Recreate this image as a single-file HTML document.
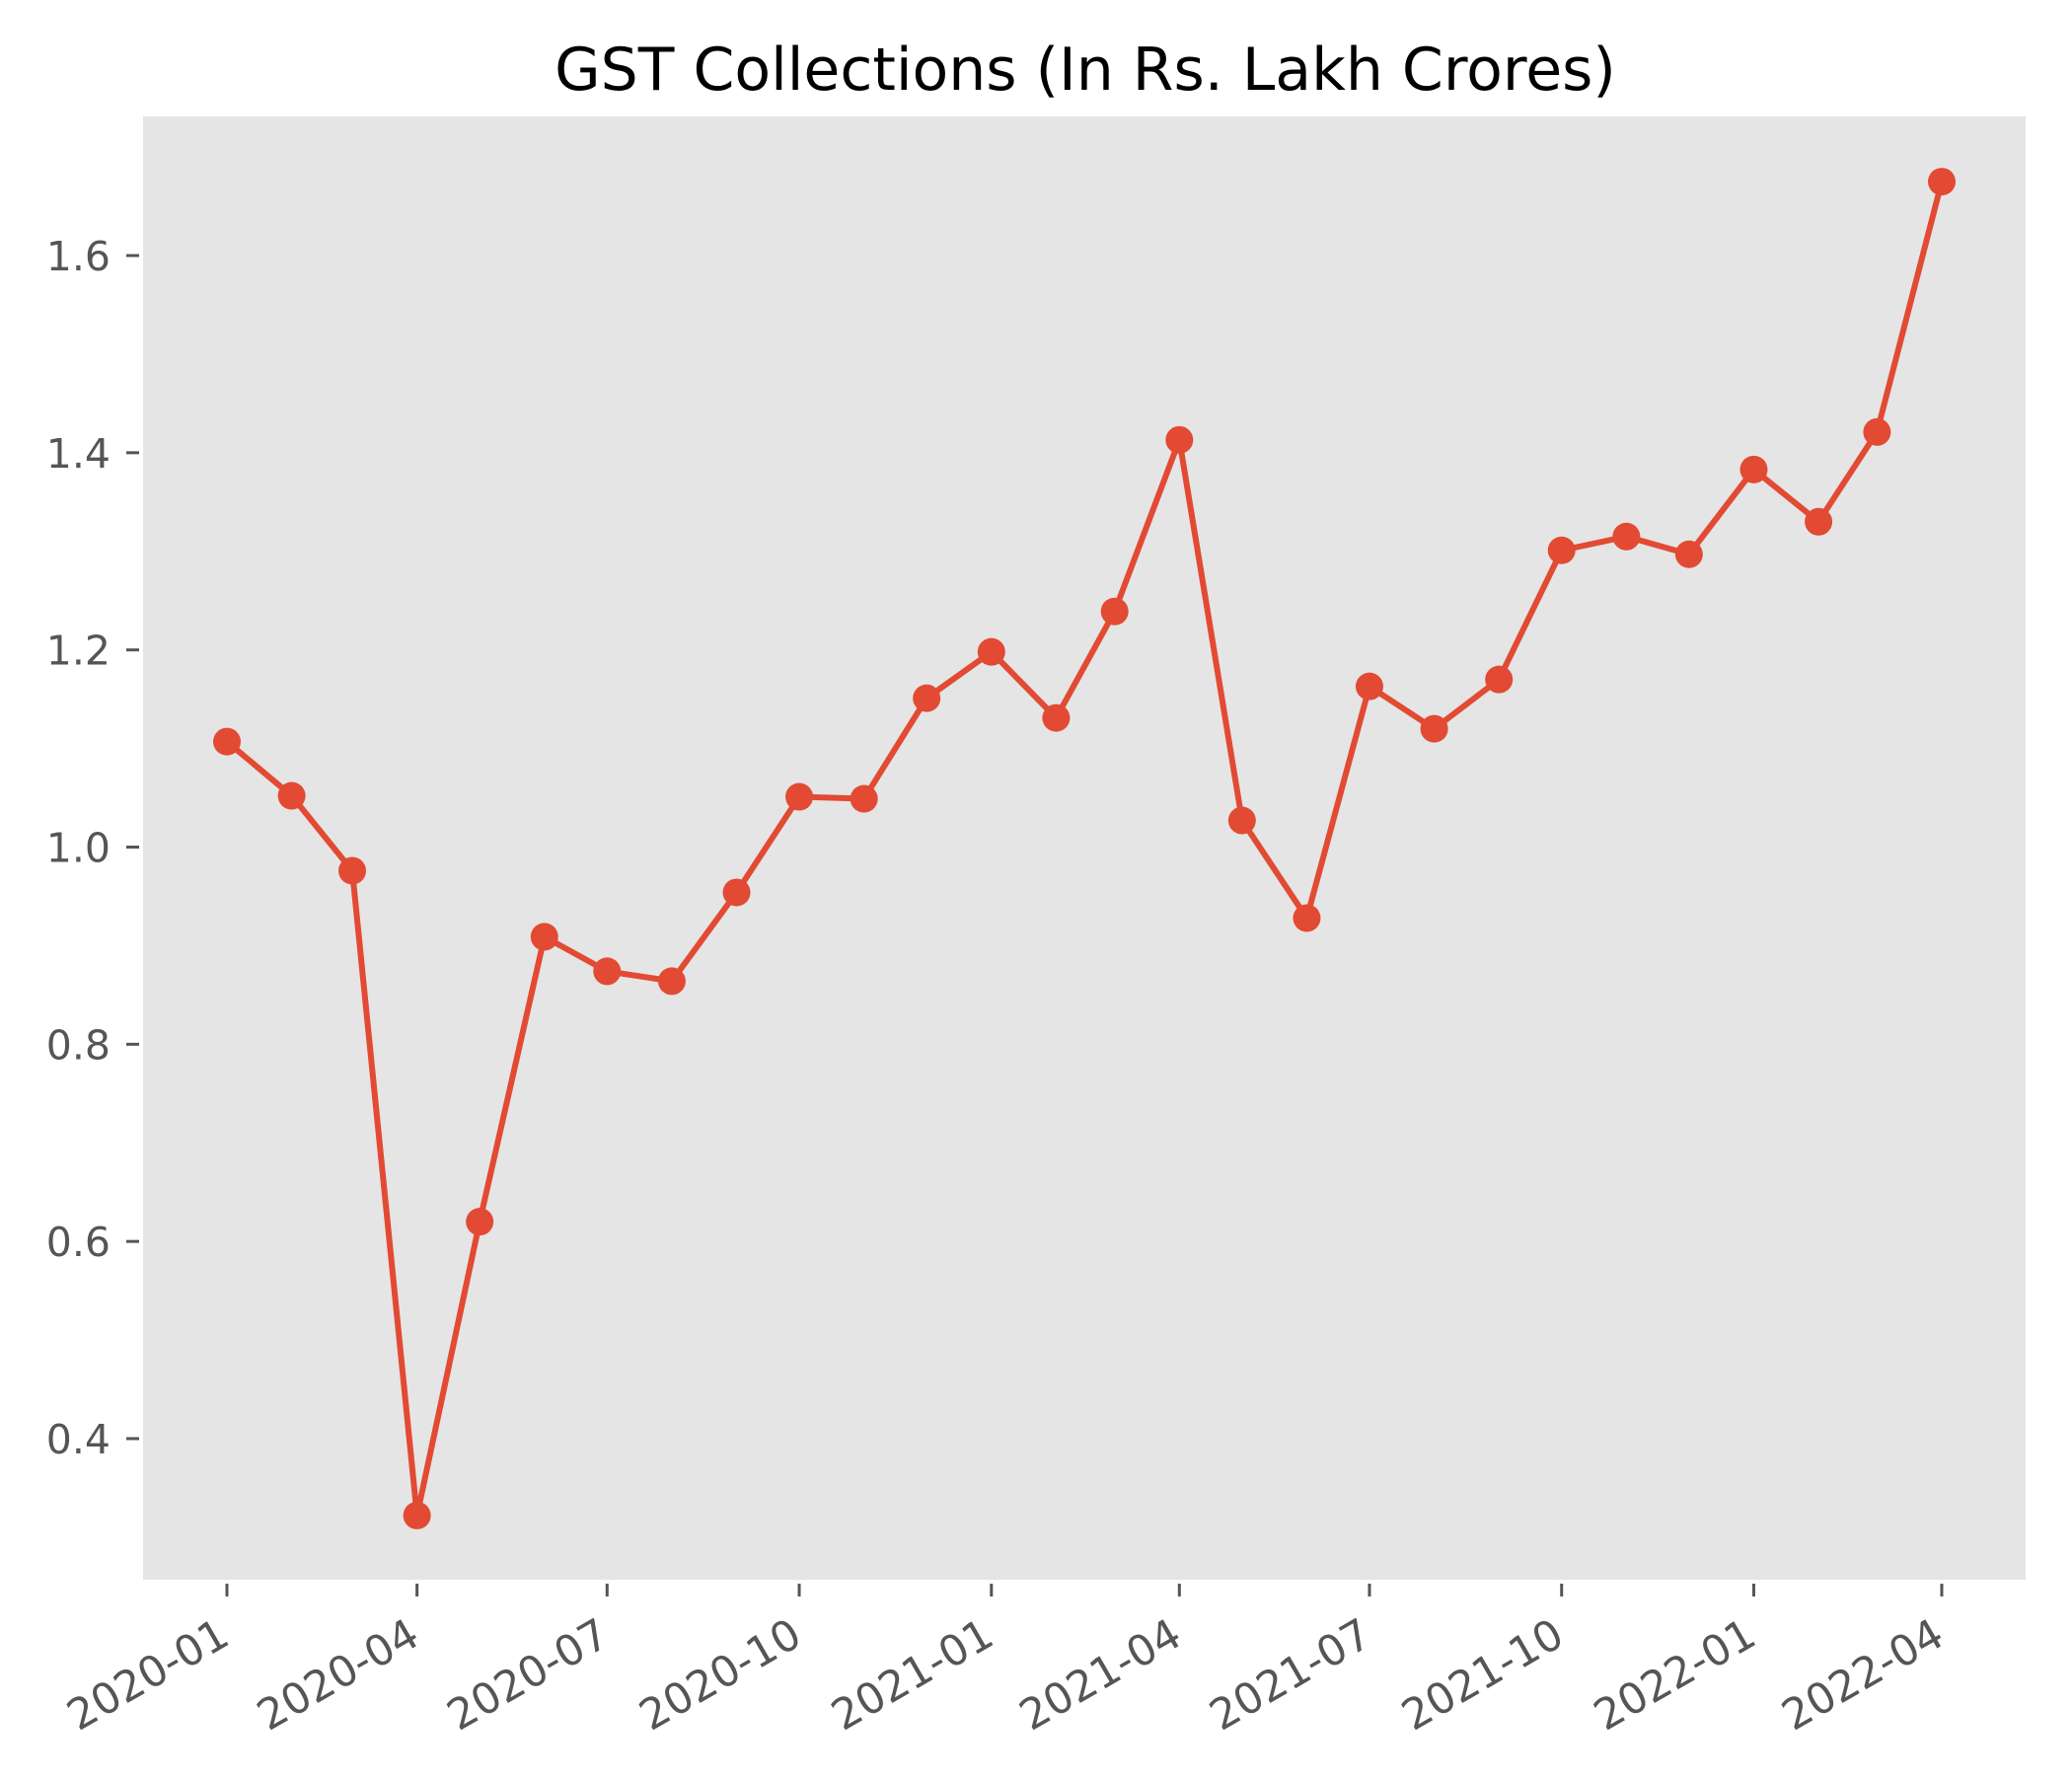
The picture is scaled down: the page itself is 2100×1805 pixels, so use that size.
<!DOCTYPE html>
<html><head><meta charset="utf-8"><style>
html,body{margin:0;padding:0;background:#fff;}
svg text{font-family:"DejaVu Sans","Liberation Sans",sans-serif;}
</style></head><body>
<svg id="chart" width="2100" height="1800" viewBox="0 0 2100 1800" xmlns="http://www.w3.org/2000/svg">
<rect width="2100" height="1800" fill="#ffffff"/>
<text x="1100" y="91" text-anchor="middle" font-size="60" fill="#000">GST Collections (In Rs. Lakh Crores)</text>
<rect x="145" y="118" width="1908" height="1483" fill="#e5e5e5"/>
<g id="yaxis"></g>
<g id="xaxis"></g>
<g id="series"></g>
</svg>
<script>
const months = ["2020-01","2020-02","2020-03","2020-04","2020-05","2020-06","2020-07","2020-08","2020-09","2020-10","2020-11","2020-12","2021-01","2021-02","2021-03","2021-04","2021-05","2021-06","2021-07","2021-08","2021-09","2021-10","2021-11","2021-12","2022-01","2022-02","2022-03","2022-04"];
const gstValues = [1.107,1.052,0.976,0.322,0.620,0.909,0.874,0.864,0.954,1.051,1.049,1.151,1.198,1.131,1.239,1.413,1.027,0.928,1.163,1.120,1.170,1.301,1.315,1.297,1.383,1.330,1.421,1.675];
const yTicks = [0.4,0.6,0.8,1.0,1.2,1.4,1.6];
const xTicks = ["2020-01","2020-04","2020-07","2020-10","2021-01","2021-04","2021-07","2021-10","2022-01","2022-04"];

const NS="http://www.w3.org/2000/svg";
function dayNum(s){const p=s.split("-");return Date.UTC(+p[0],+p[1]-1,1)/86400000;}
const d0=dayNum("2020-01"), d1=dayNum("2022-04");
function xScale(s){return 230+(dayNum(s)-d0)*(1968-230)/(d1-d0);}
function yScale(v){return 259+(1.6-v)*(1458-259)/1.2;}
function mk(tag,attrs,parent){const e=document.createElementNS(NS,tag);for(const k in attrs)e.setAttribute(k,attrs[k]);parent.appendChild(e);return e;}

const ya=document.getElementById("yaxis");
yTicks.forEach(v=>{
  const y=yScale(v);
  const t=mk("line",{x1:128,x2:141,y1:y,y2:y,stroke:"#555","stroke-width":3},ya);
  
  
  const l=mk("text",{x:112,y:y+15,"text-anchor":"end","font-size":41,fill:"#555"},ya);
  l.textContent=v.toFixed(1);
  
  
});
const xa=document.getElementById("xaxis");
xTicks.forEach(s=>{
  const x=xScale(s);
  const t=mk("line",{x1:x,x2:x,y1:1605,y2:1618,stroke:"#555","stroke-width":3},xa);
  
  
  const l=mk("text",{x:x+5,y:1665,"text-anchor":"end","font-size":43,fill:"#555",transform:`rotate(-30 ${x+5} 1665)`},xa);
  l.textContent=s;
  
  
});
const sg=document.getElementById("series");
const pts=months.map((m,i)=>xScale(m)+","+yScale(gstValues[i])).join(" ");
const pl=mk("polyline",{points:pts,fill:"none",stroke:"#E24A33","stroke-width":6,"stroke-linejoin":"round"},sg);


months.forEach((m,i)=>{
  const c=mk("circle",{cx:xScale(m),cy:yScale(gstValues[i]),r:14,fill:"#E24A33"},sg);
  
  
});
</script>
</body></html>
